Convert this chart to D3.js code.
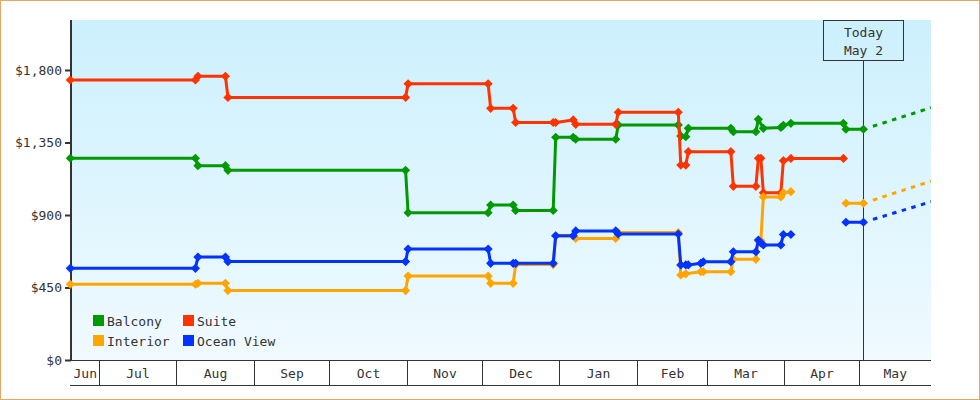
<!DOCTYPE html>
<html><head><meta charset="utf-8">
<script src="https://cdn.jsdelivr.net/npm/d3@7"></script>
<style>
html,body{margin:0;padding:0;background:#fff}
svg{display:block}
text{font-family:"DejaVu Sans Mono",monospace;font-size:13px;fill:#333}
</style>
</head><body>
<svg id="chart" width="980" height="400"></svg>
<script>
// ---------- data ----------
const seriesNames = ["Balcony", "Suite", "Interior", "Ocean View"];

const balconyDates = ["2022-06-19","2022-08-08","2022-08-09","2022-08-20","2022-08-21","2022-10-31","2022-11-01","2022-12-03","2022-12-04","2022-12-13","2022-12-14","2022-12-29","2022-12-30","2023-01-06","2023-01-07","2023-01-23","2023-01-24","2023-02-17","2023-02-18","2023-02-20","2023-02-21","2023-03-10","2023-03-11","2023-03-20","2023-03-21","2023-03-23","2023-03-30","2023-03-31","2023-04-03","2023-04-24","2023-04-25","2023-05-02"];
const balconyPrices = [1252,1252,1206,1206,1177,1177,914,914,962,962,928,928,1382,1382,1370,1370,1459,1459,1390,1386,1438,1438,1417,1417,1494,1438,1443,1457,1469,1469,1432,1432];

const suiteDates = ["2022-06-19","2022-08-08","2022-08-09","2022-08-20","2022-08-21","2022-10-31","2022-11-01","2022-12-03","2022-12-04","2022-12-13","2022-12-14","2022-12-29","2022-12-30","2023-01-06","2023-01-07","2023-01-23","2023-01-24","2023-02-17","2023-02-18","2023-02-20","2023-02-21","2023-03-10","2023-03-11","2023-03-20","2023-03-21","2023-03-22","2023-03-23","2023-03-30","2023-03-31","2023-04-03","2023-04-24"];
const suitePrices = [1738,1738,1761,1761,1630,1630,1714,1714,1562,1562,1474,1474,1474,1490,1463,1463,1538,1538,1210,1210,1293,1293,1078,1078,1252,1252,1038,1038,1237,1251,1251];

const interiorDates = ["2022-06-19","2022-08-08","2022-08-09","2022-08-20","2022-08-21","2022-10-31","2022-11-01","2022-12-03","2022-12-04","2022-12-13","2022-12-14","2022-12-29","2022-12-30","2023-01-06","2023-01-07","2023-01-23","2023-01-24","2023-02-17","2023-02-18","2023-02-20","2023-02-26","2023-02-27","2023-03-10","2023-03-11","2023-03-20","2023-03-21","2023-03-22","2023-03-23","2023-03-30","2023-03-31","2023-04-03","2023-04-14","2023-04-25","2023-05-02"];
const interiorPrices = [470,470,476,476,431,431,521,521,476,476,592,592,770,770,754,754,791,791,528,535,548,548,548,625,625,739,741,1012,1012,1038,1045,null,973,973];

const oceanViewDates = ["2022-06-19","2022-08-08","2022-08-09","2022-08-20","2022-08-21","2022-10-31","2022-11-01","2022-12-03","2022-12-04","2022-12-13","2022-12-14","2022-12-29","2022-12-30","2023-01-06","2023-01-07","2023-01-23","2023-01-24","2023-02-17","2023-02-18","2023-02-20","2023-02-21","2023-02-26","2023-02-27","2023-03-10","2023-03-11","2023-03-20","2023-03-21","2023-03-22","2023-03-23","2023-03-30","2023-03-31","2023-04-03","2023-04-14","2023-04-25","2023-05-02"];
const oceanViewPrices = [569,569,639,639,611,611,689,689,600,600,600,600,771,771,801,801,782,782,590,590,590,600,610,610,672,672,745,726,714,714,779,779,null,855,855];

// projected prices at the end of the axis (Balcony, Suite, Interior, Ocean View)
const projectionEndDate = "2023-05-29";
const projectionEndPrices = [1566, null, 1110, 982];

const todayDate = "2023-05-02";
const todayLabel = ["Today", "May 2"];
const axisStart = "2022-06-19";
const axisEnd = "2023-05-29";
const yTickValues = [0, 450, 900, 1350, 1800];

// ---------- styles ----------
const colors = ["#009900", "#ff3300", "#ffa500", "#0033ff"];

const parse = d3.timeParse("%Y-%m-%d");
const allDates = [balconyDates, suiteDates, interiorDates, oceanViewDates];
const allPrices = [balconyPrices, suitePrices, interiorPrices, oceanViewPrices];
const series = seriesNames.map((name, i) => ({
  name, color: colors[i],
  points: allDates[i].map((d, j) => ({date: parse(d), v: allPrices[i][j]})),
  proj: projectionEndPrices[i]
}));

const svg = d3.select("#chart");
const L = 71, R = 931, T = 20, B = 360, AB = 385;

const x = d3.scaleTime().domain([parse(axisStart), parse(axisEnd)]).range([70.3, 931]);
const y = d3.scaleLinear().domain([0, 1800]).range([B, 70]);

// outer border
svg.append("rect").attr("x", 0.5).attr("y", 0.5).attr("width", 979).attr("height", 399)
  .attr("fill", "#fff").attr("stroke", "#e9a862").attr("stroke-width", 1);

// gradient background
const defs = svg.append("defs");
const grad = defs.append("linearGradient").attr("id", "bg").attr("x1", 0).attr("y1", 0).attr("x2", 0).attr("y2", 1);
grad.append("stop").attr("offset", "0%").attr("stop-color", "#ccf0fd");
grad.append("stop").attr("offset", "100%").attr("stop-color", "#f0faff");
svg.append("rect").attr("x", L).attr("y", T).attr("width", R - L).attr("height", B - T).attr("fill", "url(#bg)");

defs.append("clipPath").attr("id", "clip").append("rect")
  .attr("x", L - 6).attr("y", T).attr("width", R - L + 6).attr("height", B - T + 6);

// y axis
const yAxis = d3.axisLeft(y).tickValues(yTickValues).tickFormat(d3.format("$,")).tickSize(6).tickPadding(3);
const yg = svg.append("g").attr("transform", `translate(${L},0)`).call(yAxis);
yg.select(".domain").remove();
yg.selectAll(".tick line").attr("stroke", "#333").attr("stroke-width", 2);
yg.selectAll(".tick text").attr("font-family", "DejaVu Sans Mono").attr("font-size", 13).attr("fill", "#333");

// month band axis
const months = d3.timeMonth.range(d3.timeMonth.ceil(x.domain()[0]), x.domain()[1]);
const snap = v => Math.floor(v) - 0.5;
const bounds = [L].concat(months.map(m => snap(x(m)))).concat([R]);
const bandG = svg.append("g");
bandG.selectAll("line.sep").data(months).join("line")
  .attr("x1", m => snap(x(m))).attr("x2", m => snap(x(m)))
  .attr("y1", B).attr("y2", AB).attr("stroke", "#333").attr("stroke-width", 1);
const monthStarts = [d3.timeMonth.floor(x.domain()[0])].concat(months);
bandG.selectAll("text").data(monthStarts).join("text")
  .attr("x", (m, i) => (bounds[i] + bounds[i + 1]) / 2)
  .attr("y", 378).attr("text-anchor", "middle")
  .text(d3.timeFormat("%b"));
bandG.append("line").attr("x1", L - 1).attr("x2", R).attr("y1", AB + 0.5).attr("y2", AB + 0.5).attr("stroke", "#333");
bandG.append("line").attr("x1", L).attr("x2", R).attr("y1", B + 0.5).attr("y2", B + 0.5).attr("stroke", "#333");

// left axis line
svg.append("line").attr("x1", L).attr("x2", L).attr("y1", T).attr("y2", B + 1).attr("stroke", "#333").attr("stroke-width", 2);

// Today marker
const tx = Math.round(x(parse(todayDate))) + 0.5;
svg.append("line").attr("x1", tx).attr("x2", tx).attr("y1", 60.5).attr("y2", B).attr("stroke", "#333").attr("stroke-width", 1);
svg.append("rect").attr("x", tx - 40).attr("y", 20.5).attr("width", 80).attr("height", 40)
  .attr("fill", "none").attr("stroke", "#333").attr("stroke-width", 1);
svg.append("text").attr("x", tx).attr("y", 37).attr("text-anchor", "middle").text(todayLabel[0]);
svg.append("text").attr("x", tx).attr("y", 55).attr("text-anchor", "middle").text(todayLabel[1]);

// series
const plot = svg.append("g").attr("clip-path", "url(#clip)");
const line = d3.line().defined(d => d.v != null).x(d => x(d.date)).y(d => y(d.v));
const marker = d3.symbol().type(d3.symbolSquare).size(42);

series.forEach(s => {
  const g = plot.append("g");
  g.append("path").datum(s.points).attr("d", line)
    .attr("fill", "none").attr("stroke", s.color).attr("stroke-width", 3).attr("stroke-linejoin", "round");
  if (s.proj != null) {
    const last = s.points[s.points.length - 1];
    g.append("path").datum([last, {date: parse(projectionEndDate), v: s.proj}]).attr("d", line)
      .attr("fill", "none").attr("stroke", s.color).attr("stroke-width", 3)
      .attr("stroke-dasharray", "0,10,4.5,5.5,4.5,5.5,4.5,5.5,4.5,5.5,4.5,5.5,4.5,5.5,4.5,5.5,4.5,5.5");
  }
  g.selectAll("path.m").data(s.points.filter(d => d.v != null)).join("path").attr("class", "m")
    .attr("d", marker)
    .attr("transform", d => `translate(${x(d.date)},${y(d.v)}) rotate(45)`)
    .attr("fill", s.color);
});

// legend
const legendPos = [[93, 315], [183, 315], [93, 335], [183, 335]];
const lg = svg.append("g");
series.forEach((s, i) => {
  lg.append("rect").attr("x", legendPos[i][0]).attr("y", legendPos[i][1]).attr("width", 11).attr("height", 11).attr("fill", s.color);
  lg.append("text").attr("x", legendPos[i][0] + 14).attr("y", legendPos[i][1] + 10.5).text(s.name);
});
</script>
</body></html>
